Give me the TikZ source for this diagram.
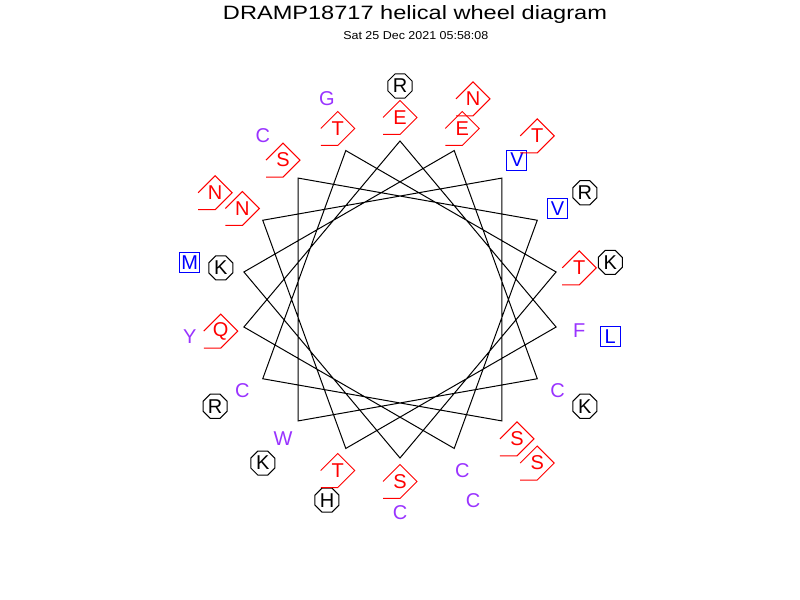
\documentclass[tikz,border=0pt]{standalone}
\usepackage{graphicx}
\usepackage{fontspec}
\setmainfont{Liberation Sans}
\usetikzlibrary{shapes.geometric}
\definecolor{resred}{RGB}{255,0,0}
\definecolor{respurple}{RGB}{153,51,255}
\definecolor{resblue}{RGB}{0,0,255}
\begin{document}
\begin{tikzpicture}[x=0.75pt,y=0.75pt,
  lbl/.style={font=\fontsize{15}{15}\selectfont, inner sep=0pt},
  hphil/.style={lbl, text=resred},
  redshape/.style={draw=resred, line width=0.75pt},
  charged/.style={lbl, text=black, draw=black, line width=0.75pt, regular polygon, regular polygon sides=8, minimum size=19.5pt},
  hphob/.style={lbl, text=resblue, draw=resblue, line width=0.75pt, rectangle, minimum size=15pt},
  other/.style={lbl, text=respurple},
  wheel/.style={draw=black, line width=0.75pt, line join=miter}
]
\useasboundingbox (0,0) rectangle (800,600);
\node[anchor=base, inner sep=0pt] (title) at (415,580) {\resizebox{288pt}{10.5pt}{DRAMP18717 helical wheel diagram}};
\node[anchor=base, inner sep=0pt] (date) at (415.8,560.7) {\resizebox{108.75pt}{6pt}{Sat 25 Dec 2021 05:58:08}};
\begin{scope}[shift={(400,300.5)}]
  \foreach \i in {0,...,17} \coordinate (v\i) at ({90-100*\i}:158.5);
  \draw[wheel] (v0) \foreach \i in {1,...,17} {-- (v\i)} -- cycle;
  % inner ring
  \node[hphil]   (r0)  at (90:182)   {E};
  \node[other]   (r1)  at (-10:182)  {F};
  \node[hphil]   (r2)  at (-110:182) {T};
  \node[hphil]   (r3)  at (150:182)  {N};
  \node[hphob]   (r4)  at (50:182)   {V};
  \node[hphil]   (r5)  at (-50:182)  {S};
  \node[other]   (r6)  at (-150:182) {C};
  \node[hphil]   (r7)  at (110:182)  {T};
  \node[hphil]   (r8)  at (10:182)   {T};
  \node[hphil]   (r9)  at (-90:182)  {S};
  \node[charged] (r10) at (170:182)  {K};
  \node[hphil]   (r11) at (70:182)   {E};
  \node[other]   (r12) at (-30:182)  {C};
  \node[other]   (r13) at (-130:182) {W};
  \node[hphil]   (r14) at (130:182)  {S};
  \node[hphob]   (r15) at (30:182)   {V};
  \node[other]   (r16) at (-70:182)  {C};
  \node[hphil]   (r17) at (-170:182) {Q};
  % outer ring
  \node[charged] (r18) at (90:213.5)   {R};
  \node[hphob]   (r19) at (-10:213.5)  {L};
  \node[charged] (r20) at (-110:213.5) {H};
  \node[hphil]   (r21) at (150:213.5)  {N};
  \node[hphil]   (r22) at (50:213.5)   {T};
  \node[hphil]   (r23) at (-50:213.5)  {S};
  \node[charged] (r24) at (-150:213.5) {R};
  \node[other]   (r25) at (110:213.5)  {G};
  \node[charged] (r26) at (10:213.5)   {K};
  \node[other]   (r27) at (-90:213.5)  {C};
  \node[hphob]   (r28) at (170:213.5)  {M};
  \node[hphil]   (r29) at (70:213.5)   {N};
  \node[charged] (r30) at (-30:213.5)  {K};
  \node[charged] (r31) at (-130:213.5) {K};
  \node[other]   (r32) at (130:213.5)  {C};
  \node[charged] (r33) at (30:213.5)   {R};
  \node[other]   (r34) at (-70:213.5)  {C};
  \node[other]   (r35) at (-170:213.5) {Y};
  \foreach \n in {r0,r2,r3,r5,r7,r8,r9,r11,r14,r17,r21,r22,r23,r29}
    \draw[redshape] ([shift={(-17,0)}]\n.center) -- ++(17,17) -- ++(17,-17) -- ++(-17,-17) -- ++(-17,0);
\end{scope}
\end{tikzpicture}
\end{document}
